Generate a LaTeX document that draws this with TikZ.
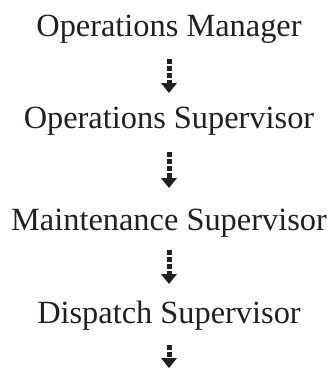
\documentclass[tikz,border=0pt]{standalone}
\usepackage{fontspec}
\setmainfont{Liberation Serif}
\usetikzlibrary{arrows.meta,calc}
\definecolor{ink}{HTML}{231F20}
\begin{document}
\begin{tikzpicture}[x=1bp,y=-1bp,
  lbl/.style={anchor=base,inner sep=0pt,text=ink,font=\fontsize{32.5}{38}\selectfont},
  arr/.style={draw=ink,line width=5bp,dash pattern=on 4.5bp off 2.5bp,
    -{Triangle[width=16bp,length=10bp,fill=ink,line width=0pt]}}]
\useasboundingbox (0,0) rectangle (328,379);
\node[lbl] (t1) at (169,36) {Operations Manager};
\node[lbl] (t2) at (169,128) {Operations Supervisor};
\node[lbl] (t3) at (169,230) {Maintenance Supervisor};
\node[lbl] (t4) at (169,323) {Dispatch Supervisor};
\coordinate (end) at (169,368);
\draw[arr] ($(t1.base)+(0,23)$) -- ($(t2.base)+(0,-35)$);
\draw[arr] ($(t2.base)+(0,24)$) -- ($(t3.base)+(0,-42)$);
\draw[arr] ($(t3.base)+(0,20)$) -- ($(t4.base)+(0,-39)$);
\draw[arr] ($(t4.base)+(0,22)$) -- (end);
\end{tikzpicture}
\end{document}
